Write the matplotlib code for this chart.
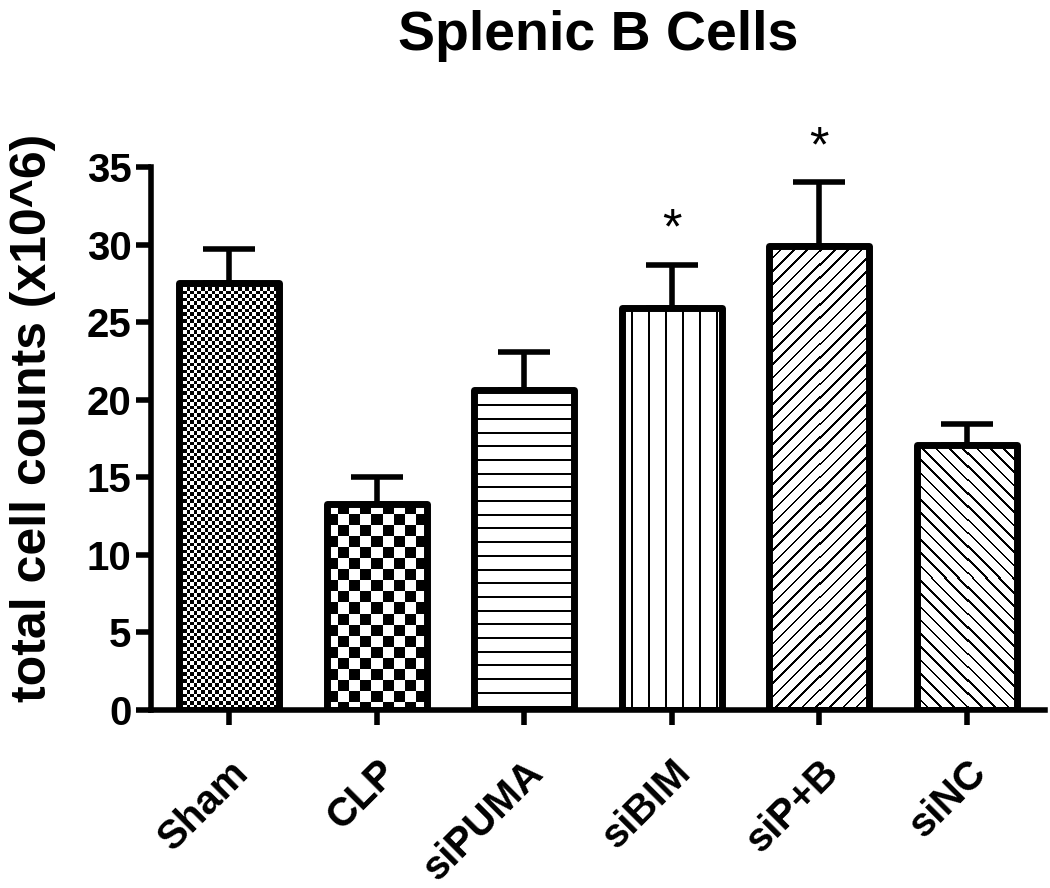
import numpy as np
import matplotlib
matplotlib.use('Agg')
import matplotlib.pyplot as plt

# splenic B cell counts per group (x10^6), mean and upper error
groups = ['Sham', 'CLP', 'siPUMA', 'siBIM', 'siP+B', 'siNC']
means = [27.5, 13.3, 20.6, 25.9, 29.9, 17.1]
sems = [2.2, 1.7, 2.5, 2.8, 4.1, 1.3]
marks = ['', '', '', '*', '*', '']
fills = ['fine_check', 'check', 'hlines', 'vlines', 'fdiag', 'bdiag']

plt.rcParams['font.family'] = ['Liberation Sans', 'DejaVu Sans']
plt.rcParams['font.weight'] = 'bold'


def pattern(kind, w, h):
    # 1 = black pixel, 0 = white, drawn in screen pixels
    c = np.arange(w)[None, :] + np.zeros((h, 1))
    r = np.arange(h)[:, None] + np.zeros((1, w))
    if kind == 'fine_check':
        return (np.floor(c / 3.6) + np.floor(r / 3.6)) % 2
    if kind == 'check':
        return (np.floor(c / 11) + np.floor(r / 11)) % 2
    if kind == 'hlines':
        return ((r % 13.7) < 2).astype(float)
    if kind == 'vlines':
        return (((c + 8) % 16.7) < 2).astype(float)
    if kind == 'fdiag':
        return (((c + r) % 13.3) < 2.6).astype(float)
    if kind == 'bdiag':
        return (((c - r) % 13.3) < 2.6).astype(float)
    return np.zeros((h, w))


fig = plt.figure(figsize=(10.5, 8.88), dpi=100)
ax = fig.add_axes([0.1438, 0.2005, 0.8514, 0.6115])

x = np.arange(len(groups))
bars = ax.bar(x, means, width=0.68, fill=False, edgecolor='black',
              linewidth=5, zorder=3)
ax.set_xlim(-0.53, 5.53)
ax.set_ylim(0, 35)

for b, kind in zip(bars, fills):
    b.set_joinstyle('round')
    x0, y0 = b.get_xy()
    w = b.get_width()
    h = b.get_height()
    (px0, py0), (px1, py1) = ax.transData.transform([(x0, y0), (x0 + w, y0 + h)])
    nw = int(round(px1 - px0))
    nh = int(round(py1 - py0))
    im = ax.imshow(pattern(kind, nw, nh), extent=(x0, x0 + w, y0, y0 + h),
                   cmap='gray_r', vmin=0, vmax=1, interpolation='nearest',
                   aspect='auto', zorder=2)
    im.set_clip_path(b)

ax.errorbar(x, means, yerr=[np.zeros(len(means)), sems], fmt='none',
            ecolor='black', elinewidth=4, capsize=19, capthick=4, zorder=4)

for xi, m, s, t in zip(x, means, sems, marks):
    if t:
        ax.annotate(t, (xi, m + s), xytext=(0, 15), textcoords='offset points',
                    ha='center', va='baseline', fontsize=36, fontweight='normal',
                    annotation_clip=False)

ax.set_xlim(-0.53, 5.53)
ax.set_ylim(0, 35)
ax.set_yticks(np.arange(0, 36, 5))
ax.set_xticks(x)
ax.set_xticklabels(groups, rotation=45, ha='right', va='top',
                   rotation_mode='anchor', fontsize=29)
ax.tick_params(axis='y', labelsize=29, length=11, width=4, pad=3)
ax.tick_params(axis='x', length=11, width=4, pad=20)

for side in ['top', 'right']:
    ax.spines[side].set_visible(False)
for side in ['left', 'bottom']:
    ax.spines[side].set_linewidth(4)

ax.set_title('Splenic B Cells', fontsize=40, fontweight='bold', pad=84)
fig.text(33 / 1050, 1 - 418 / 888, 'total cell counts (x10^6)', rotation=90,
         ha='center', va='center', fontsize=36, fontweight='bold')

fig.savefig('out.png', dpi=100)
